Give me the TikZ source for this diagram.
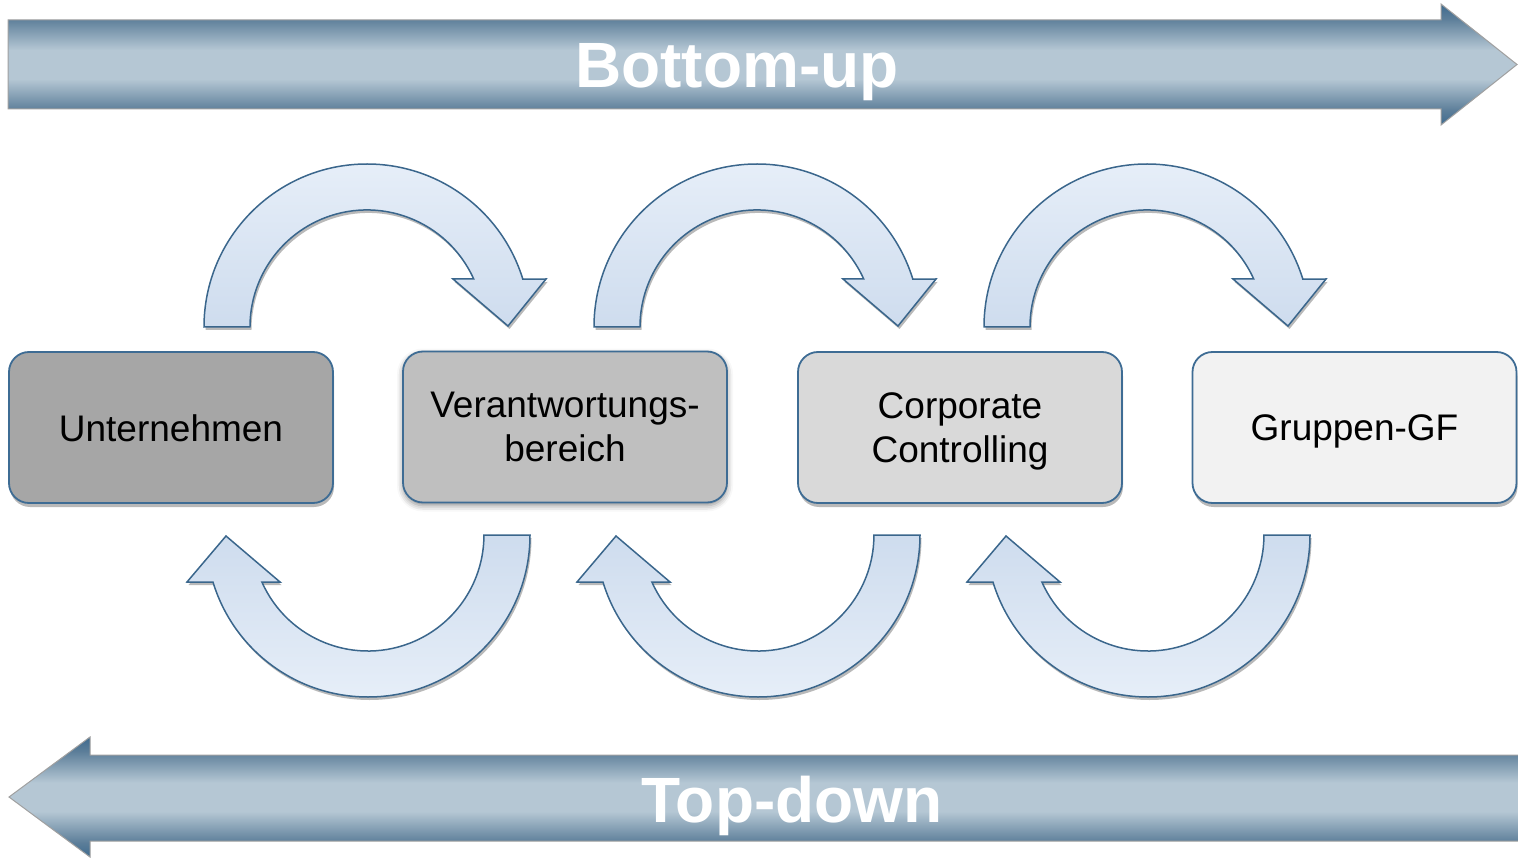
\documentclass[tikz,border=0pt]{standalone}
\usepackage{fontspec}
\setmainfont{Liberation Sans}
\usetikzlibrary{shadows,shadows.blur}
\definecolor{bdk}{RGB}{62,106,142}
\definecolor{bmd}{RGB}{92,126,153}
\definecolor{blt}{RGB}{181,199,212}
\definecolor{bedge}{RGB}{160,160,160}
\definecolor{ctop}{RGB}{230,238,248}
\definecolor{cbot}{RGB}{206,220,238}
\definecolor{aline}{RGB}{58,102,140}
\definecolor{bline}{RGB}{62,108,148}
\definecolor{f1}{RGB}{166,166,166}
\definecolor{f2}{RGB}{191,191,191}
\definecolor{f3}{RGB}{217,217,217}
\definecolor{f4}{RGB}{242,242,242}
\pgfdeclareverticalshading{bigarr}{100bp}{color(0bp)=(bdk); color(25bp)=(bdk); color(31bp)=(bmd); color(44bp)=(blt); color(56bp)=(blt); color(69bp)=(bmd); color(75bp)=(bdk); color(100bp)=(bdk)}
\begin{document}
\begin{tikzpicture}[x=1pt,y=-1pt,
  bigarrow/.style={draw=bedge, line width=1pt, shading=bigarr},
  bigtxt/.style={text=white, font=\bfseries\fontsize{64}{64}\selectfont, anchor=base, inner sep=0pt},
  carrow/.style={draw=aline, line width=1.5pt, line join=miter,
    drop shadow={shadow xshift=1.5pt, shadow yshift=-3pt, fill=black!50, opacity=0.55}},
  box/.style={draw=bline, line width=1.8pt, rounded corners=20pt,
    minimum width=324pt, minimum height=151pt, inner sep=0pt},
  lbl/.style={align=center, inner sep=0pt, font=\fontsize{37}{44.5}\selectfont},
  boxshadow/.style={drop shadow={shadow xshift=1pt, shadow yshift=-4pt, fill=black!55, opacity=0.5}},
  boxglow/.style={blur shadow={shadow xshift=0pt, shadow yshift=-3pt, shadow blur radius=6pt, shadow opacity=45}}
]
\useasboundingbox (0,0) rectangle (1518,858);
% big arrows
\path[bigarrow] (8,20) -- (1441,20) -- (1441,4) -- (1517,64.5) -- (1441,125) -- (1441,109) -- (8,109) -- cycle;
\path[bigarrow] (1519,755) -- (90,755) -- (90,737) -- (9,797) -- (90,857) -- (90,841) -- (1519,841) -- cycle;
\node[bigtxt] (bu) at (737,88) {Bottom-up};
\node[bigtxt] (td) at (792,822) {Top-down};
% curved arrows
\foreach \dx in {0,390,780}{
  \begin{scope}[xshift=\dx pt]
    \path[carrow, top color=ctop, bottom color=cbot]
      (204,327) arc[start angle=180, end angle=342.9, radius=163]
      -- (546,279) -- (508,326) -- (453,279) -- (473.7,279)
      arc[start angle=335.8, end angle=180, radius=117] -- cycle;
    \path[carrow, top color=cbot, bottom color=ctop]
      (530,535) arc[start angle=0, end angle=163.1, radius=162]
      -- (187,582) -- (226,536) -- (280,582) -- (261.9,582)
      arc[start angle=156.1, end angle=0, radius=116] -- cycle;
  \end{scope}
}
% boxes
\node[box, boxshadow, fill=f1] (b1) at (171,427.5) {};
\node[box, boxglow, fill=f2] (b2) at (565,427) {};
\node[box, boxshadow, fill=f3] (b3) at (960,427.5) {};
\node[box, boxshadow, fill=f4] (b4) at (1354.5,427.5) {};
\node[lbl] (t1) at ([yshift=-1pt]b1.center) {Unternehmen};
\node[lbl] (t2) at ([yshift=0pt]b2.center) {Verantwortungs-\\bereich};
\node[lbl] (t3) at ([yshift=-4pt]b3.center) {Corporate\\Controlling};
\node[lbl] (t4) at ([yshift=-4pt]b4.center) {Gruppen-GF};
\end{tikzpicture}
\end{document}
